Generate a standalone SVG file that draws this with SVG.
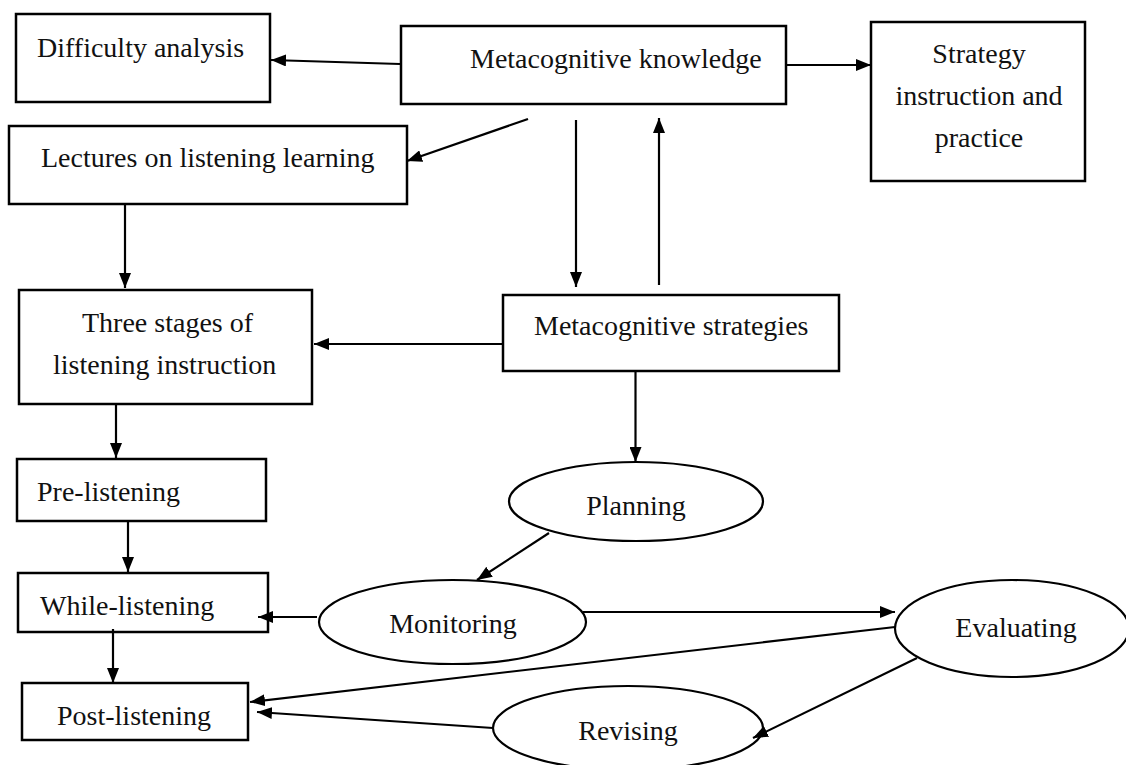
<svg xmlns="http://www.w3.org/2000/svg" width="1126" height="765" viewBox="0 0 1126 765">
<style>
.box{fill:#fff;stroke:#000;stroke-width:2.5}
.ell{fill:#fff;stroke:#000;stroke-width:2.2}
.t{font-family:"Liberation Serif","Times New Roman",serif;font-size:28px;fill:#111}
.m{text-anchor:middle}
.c{stroke:#000;stroke-width:2.2;fill:none;marker-end:url(#ah)}
</style>
<defs>
<marker id="ah" markerUnits="userSpaceOnUse" markerWidth="15" markerHeight="12" refX="15" refY="6" orient="auto">
<path d="M0,0 L15,6 L0,12 z" fill="#000"/>
</marker>
</defs>
<rect width="1126" height="765" fill="#fff"/>
<g id="difficulty"><rect class="box" x="16" y="14" width="254" height="88"/><text class="t" x="37" y="57">Difficulty analysis</text></g>
<g id="mknowledge"><rect class="box" x="401" y="26" width="385" height="78"/><text class="t" x="470" y="68">Metacognitive knowledge</text></g>
<g id="strategy"><rect class="box" x="871" y="22" width="214" height="159"/><text class="t m" x="979" y="63">Strategy</text><text class="t m" x="979" y="105">instruction and</text><text class="t m" x="979" y="147">practice</text></g>
<g id="lectures"><rect class="box" x="9" y="126" width="398" height="78"/><text class="t" x="41" y="167">Lectures on listening learning</text></g>
<g id="three"><rect class="box" x="19" y="290" width="293" height="114"/><text class="t" x="82" y="332">Three stages of</text><text class="t" x="53" y="374">listening instruction</text></g>
<g id="mstrategies"><rect class="box" x="503" y="295" width="336" height="76"/><text class="t" x="534" y="335">Metacognitive strategies</text></g>
<g id="pre"><rect class="box" x="17" y="459" width="249" height="62"/><text class="t" x="37" y="501">Pre-listening</text></g>
<g id="while"><rect class="box" x="18" y="573" width="250" height="59"/><text class="t" x="40" y="615">While-listening</text></g>
<g id="post"><rect class="box" x="22" y="683" width="226" height="57"/><text class="t" x="57" y="725">Post-listening</text></g>
<g id="planning"><ellipse class="ell" cx="636" cy="501.5" rx="127" ry="39.5"/><text class="t m" x="636" y="515">Planning</text></g>
<g id="monitoring"><ellipse class="ell" cx="452.5" cy="622" rx="133.5" ry="42"/><text class="t m" x="453" y="633">Monitoring</text></g>
<g id="evaluating"><ellipse class="ell" cx="1012" cy="628.5" rx="117" ry="48.5"/><text class="t m" x="1016" y="637">Evaluating</text></g>
<g id="revising"><ellipse class="ell" cx="628" cy="728" rx="135" ry="42"/><text class="t m" x="628" y="740">Revising</text></g>
<g id="connectors">
<line class="c" x1="400" y1="64" x2="271" y2="60"/>
<line class="c" x1="786" y1="65" x2="871" y2="65"/>
<line class="c" x1="528" y1="119" x2="407" y2="161"/>
<line class="c" x1="576" y1="120" x2="576" y2="287"/>
<line class="c" x1="659" y1="285" x2="659" y2="118"/>
<line class="c" x1="125" y1="204" x2="125" y2="288"/>
<line class="c" x1="503" y1="344" x2="314" y2="344"/>
<line class="c" x1="116" y1="404" x2="116" y2="458"/>
<line class="c" x1="635.5" y1="371" x2="635.5" y2="462"/>
<line class="c" x1="128" y1="521" x2="128" y2="572"/>
<line class="c" x1="113" y1="629" x2="113" y2="683"/>
<line class="c" x1="549" y1="533" x2="477" y2="580"/>
<line class="c" x1="317" y1="617" x2="258" y2="617"/>
<line class="c" x1="583" y1="612" x2="895" y2="612"/>
<line class="c" x1="895" y1="627" x2="250" y2="702"/>
<line class="c" x1="917" y1="658" x2="753" y2="738"/>
<line class="c" x1="493" y1="728" x2="257" y2="712"/>
</g>
</svg>
